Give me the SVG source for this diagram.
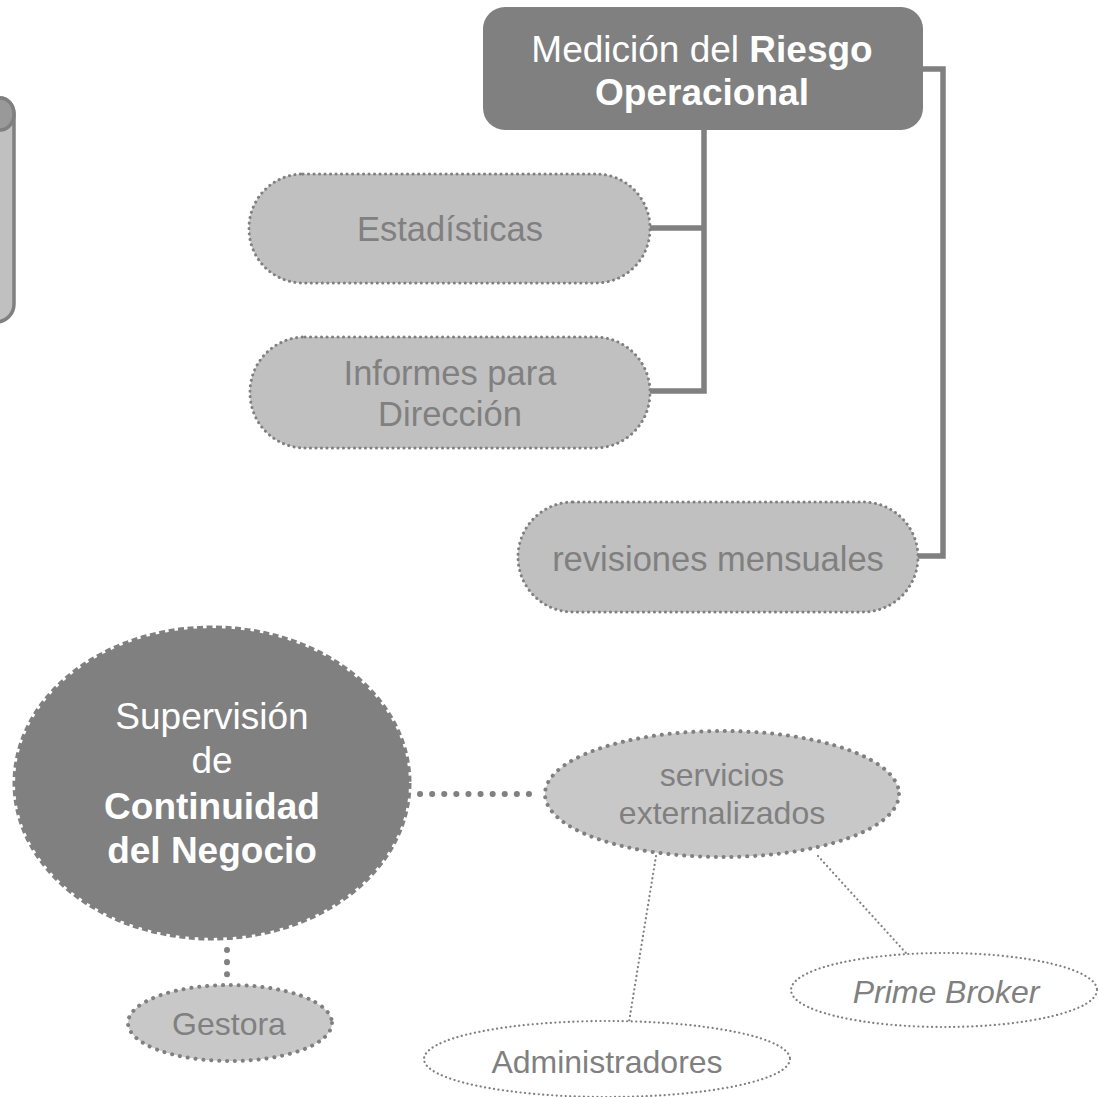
<svg xmlns="http://www.w3.org/2000/svg" width="1099" height="1097" viewBox="0 0 1099 1097">
<style>
text{font-family:"Liberation Sans",Arial,sans-serif;text-anchor:middle}
.lt{fill:#808080;font-size:34.5px}
.sm{fill:#808080;font-size:32px}
.w{fill:#fff;font-size:37px}
.b{font-weight:bold}
.pill{fill:#c0c0c0;stroke:#808080;stroke-width:3;stroke-dasharray:.1 5.4;stroke-linecap:round}
.ell{fill:#c8c8c8;stroke:#808080;stroke-width:4;stroke-dasharray:.1 7.8;stroke-linecap:round}
.thin{fill:#fff;stroke:#808080;stroke-width:2.2;stroke-dasharray:.1 4.4;stroke-linecap:round}
.conn{fill:none;stroke:#808080;stroke-width:5.5}
.dot{fill:none;stroke:#808080;stroke-width:6;stroke-dasharray:.1 12;stroke-linecap:round}
.tdot{fill:none;stroke:#808080;stroke-width:2.2;stroke-dasharray:.1 4.4;stroke-linecap:round}
</style>
<g id="connectors">
<path class="conn" d="M704 130V391H650M704 228H650"/>
<path class="conn" d="M922 69H943V556H917"/>
<path class="dot" d="M420 794H530"/>
<path class="dot" d="M227 950V975"/>
<path class="tdot" d="M656 856L629 1022"/>
<path class="tdot" d="M818 856L906 953"/>
</g>
<g id="cylinder">
<path d="M-30 98H0A14 16 0 0 1 14 114V304A18 18 0 0 1 -4 322H-30Z" fill="#c0c0c0" stroke="#808080" stroke-width="3.5"/>
<ellipse cx="0" cy="114" rx="14" ry="16" fill="#999" stroke="#808080" stroke-width="3.5"/>
</g>
<g id="medicion">
<rect x="483" y="7" width="440" height="123" rx="22" fill="#808080"/>
<text class="w" x="702" y="62">Medición del <tspan class="b">Riesgo</tspan></text>
<text class="w b" x="702" y="105">Operacional</text>
</g>
<g id="estadisticas">
<rect x="249" y="174" width="401" height="109" rx="54" class="pill"/>
<text class="lt" x="450" y="241">Estadísticas</text>
</g>
<g id="informes">
<rect x="250" y="337" width="400" height="111" rx="55" class="pill"/>
<text class="lt" x="450" y="385">Informes para</text>
<text class="lt" x="450" y="426">Dirección</text>
</g>
<g id="revisiones">
<rect x="518" y="502" width="400" height="110" rx="55" class="pill"/>
<text class="lt" x="718" y="571">revisiones mensuales</text>
</g>
<g id="supervision">
<ellipse cx="212" cy="783" rx="197" ry="155" fill="#808080" stroke="#808080" stroke-width="5" stroke-dasharray="6 3.5"/>
<text class="w" x="212" y="729">Supervisión</text>
<text class="w" x="212" y="773">de</text>
<text class="w b" x="212" y="819">Continuidad</text>
<text class="w b" x="212" y="863">del Negocio</text>
</g>
<g id="servicios">
<ellipse cx="722" cy="794" rx="177" ry="63" class="ell"/>
<text class="sm" x="722" y="786">servicios</text>
<text class="sm" x="722" y="824">externalizados</text>
</g>
<g id="gestora">
<ellipse cx="230" cy="1023" rx="102" ry="38" class="ell"/>
<text class="sm" x="229" y="1035">Gestora</text>
</g>
<g id="prime">
<ellipse cx="944" cy="990" rx="153" ry="37" class="thin"/>
<text class="sm" x="946" y="1003" style="font-style:italic">Prime Broker</text>
</g>
<g id="administradores">
<ellipse cx="607" cy="1059" rx="183" ry="38" class="thin"/>
<text class="sm" x="607" y="1073">Administradores</text>
</g>
</svg>
